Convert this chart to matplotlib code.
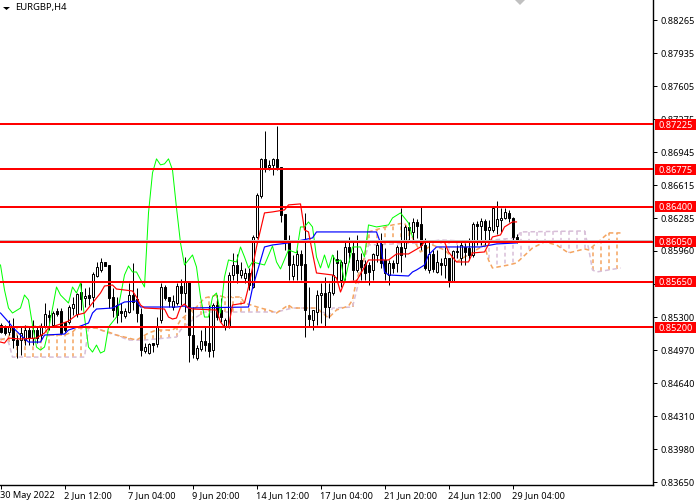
"""EURGBP H4 chart with Ichimoku lines and horizontal levels."""

import matplotlib as mpl
import matplotlib.pyplot as plt
import numpy as np
from matplotlib.patches import Polygon, Rectangle
from matplotlib.transforms import blended_transform_factory

opens = [
    0.8522, 0.8520, 0.8515, 0.8520, 0.8507, 0.8507, 0.8507, 0.8517, 0.8509, 0.8517,
    0.8512, 0.8520, 0.8532, 0.8522, 0.8536, 0.8536, 0.8525, 0.8525, 0.8539, 0.8533,
    0.8555, 0.8549, 0.8552, 0.8550, 0.8571, 0.8577, 0.8585, 0.8582, 0.8550, 0.8542,
    0.8536, 0.8531, 0.8535, 0.8552, 0.8548, 0.8533, 0.8496, 0.8494, 0.8504, 0.8503,
    0.8527, 0.8560, 0.8550, 0.8540, 0.8544, 0.8561, 0.8554, 0.8565, 0.8512, 0.8489,
    0.8498, 0.8506, 0.8504, 0.8497, 0.8542, 0.8537, 0.8520, 0.8520, 0.8572, 0.8582,
    0.8572, 0.8569, 0.8574, 0.8560, 0.8610, 0.8651, 0.8688, 0.8680, 0.8682, 0.8688,
    0.8680, 0.8633, 0.8605, 0.8571, 0.8582, 0.8593, 0.8583, 0.8532, 0.8527, 0.8535,
    0.8552, 0.8554, 0.8540, 0.8554, 0.8588, 0.8567, 0.8584, 0.8600, 0.8594, 0.8577,
    0.8587, 0.8583, 0.8582, 0.8577, 0.8592, 0.8603, 0.8587, 0.8572, 0.8584, 0.8584,
    0.8600, 0.8599, 0.8620, 0.8615, 0.8625, 0.8623, 0.8602, 0.8577, 0.8593, 0.8575,
    0.8584, 0.8582, 0.8589, 0.8566, 0.8596, 0.8589, 0.8600, 0.8599, 0.8592, 0.8623,
    0.8621, 0.8626, 0.8617, 0.8617, 0.8621, 0.8627, 0.8629, 0.8634, 0.8629, 0.8610,
]
highs = [
    0.8524, 0.8522, 0.8527, 0.8529, 0.8512, 0.8521, 0.8522, 0.8521, 0.8527, 0.8521,
    0.8524, 0.8544, 0.8537, 0.8536, 0.8539, 0.8539, 0.8525, 0.8542, 0.8550, 0.8554,
    0.8564, 0.8559, 0.8560, 0.8575, 0.8585, 0.8589, 0.8585, 0.8582, 0.8559, 0.8550,
    0.8544, 0.8539, 0.8564, 0.8584, 0.8559, 0.8539, 0.8504, 0.8504, 0.8504, 0.8530,
    0.8564, 0.8562, 0.8550, 0.8552, 0.8564, 0.8568, 0.8590, 0.8565, 0.8540, 0.8502,
    0.8517, 0.8520, 0.8542, 0.8544, 0.8552, 0.8549, 0.8529, 0.8575, 0.8594, 0.8593,
    0.8585, 0.8579, 0.8579, 0.8612, 0.8654, 0.8689, 0.8716, 0.8687, 0.8689, 0.8721,
    0.8680, 0.8633, 0.8612, 0.8592, 0.8597, 0.8597, 0.8634, 0.8560, 0.8537, 0.8557,
    0.8564, 0.8570, 0.8564, 0.8592, 0.8597, 0.8587, 0.8605, 0.8610, 0.8605, 0.8612,
    0.8594, 0.8587, 0.8585, 0.8594, 0.8605, 0.8614, 0.8599, 0.8587, 0.8587, 0.8602,
    0.8639, 0.8622, 0.8625, 0.8629, 0.8628, 0.8640, 0.8609, 0.8607, 0.8597, 0.8597,
    0.8589, 0.8600, 0.8589, 0.8597, 0.8602, 0.8607, 0.8604, 0.8609, 0.8625, 0.8626,
    0.8629, 0.8628, 0.8627, 0.8640, 0.8646, 0.8639, 0.8639, 0.8637, 0.8630, 0.8613,
]
lows = [
    0.8514, 0.8512, 0.8512, 0.8499, 0.8489, 0.8492, 0.8502, 0.8502, 0.8502, 0.8504,
    0.8507, 0.8519, 0.8517, 0.8520, 0.8531, 0.8513, 0.8515, 0.8523, 0.8532, 0.8530,
    0.8537, 0.8540, 0.8542, 0.8540, 0.8570, 0.8575, 0.8581, 0.8539, 0.8530, 0.8524,
    0.8525, 0.8529, 0.8534, 0.8537, 0.8525, 0.8491, 0.8494, 0.8493, 0.8495, 0.8500,
    0.8524, 0.8547, 0.8540, 0.8537, 0.8542, 0.8542, 0.8535, 0.8485, 0.8489, 0.8487,
    0.8496, 0.8496, 0.8490, 0.8490, 0.8527, 0.8525, 0.8517, 0.8519, 0.8567, 0.8564,
    0.8569, 0.8564, 0.8557, 0.8559, 0.8609, 0.8649, 0.8675, 0.8677, 0.8672, 0.8677,
    0.8625, 0.8597, 0.8567, 0.8567, 0.8567, 0.8567, 0.8510, 0.8520, 0.8517, 0.8522,
    0.8524, 0.8520, 0.8529, 0.8552, 0.8567, 0.8560, 0.8567, 0.8585, 0.8567, 0.8575,
    0.8567, 0.8567, 0.8562, 0.8567, 0.8585, 0.8579, 0.8567, 0.8562, 0.8574, 0.8575,
    0.8575, 0.8590, 0.8607, 0.8607, 0.8609, 0.8597, 0.8577, 0.8574, 0.8575, 0.8574,
    0.8572, 0.8569, 0.8560, 0.8565, 0.8589, 0.8582, 0.8582, 0.8587, 0.8590, 0.8602,
    0.8602, 0.8602, 0.8607, 0.8615, 0.8613, 0.8615, 0.8628, 0.8625, 0.8607, 0.8604,
]
closes = [
    0.8515, 0.8514, 0.8520, 0.8507, 0.8502, 0.8514, 0.8517, 0.8509, 0.8517, 0.8509,
    0.8520, 0.8533, 0.8530, 0.8534, 0.8533, 0.8514, 0.8517, 0.8540, 0.8543, 0.8553,
    0.8548, 0.8551, 0.8549, 0.8573, 0.8580, 0.8585, 0.8581, 0.8549, 0.8537, 0.8532,
    0.8534, 0.8536, 0.8552, 0.8545, 0.8534, 0.8497, 0.8500, 0.8503, 0.8502, 0.8520,
    0.8560, 0.8549, 0.8546, 0.8546, 0.8561, 0.8554, 0.8565, 0.8512, 0.8493, 0.8499,
    0.8506, 0.8502, 0.8496, 0.8542, 0.8530, 0.8530, 0.8527, 0.8572, 0.8582, 0.8574,
    0.8577, 0.8574, 0.8562, 0.8610, 0.8652, 0.8688, 0.8680, 0.8682, 0.8688, 0.8680,
    0.8632, 0.8605, 0.8582, 0.8583, 0.8593, 0.8582, 0.8537, 0.8528, 0.8537, 0.8552,
    0.8554, 0.8540, 0.8555, 0.8572, 0.8584, 0.8585, 0.8600, 0.8595, 0.8577, 0.8587,
    0.8580, 0.8574, 0.8575, 0.8593, 0.8602, 0.8584, 0.8574, 0.8584, 0.8579, 0.8600,
    0.8592, 0.8620, 0.8617, 0.8625, 0.8621, 0.8602, 0.8579, 0.8593, 0.8578, 0.8585,
    0.8582, 0.8589, 0.8566, 0.8596, 0.8595, 0.8602, 0.8595, 0.8592, 0.8623, 0.8621,
    0.8626, 0.8617, 0.8620, 0.8639, 0.8628, 0.8629, 0.8635, 0.8629, 0.8610, 0.8606,
]

tenkan_bars = [
    0, 1, 2, 5, 9, 11, 12, 15, 17, 19, 21, 22, 24, 25, 26, 28, 29, 33, 34, 35, 36, 41,
    42, 43, 44, 45, 46, 47, 48, 54, 55, 56, 57, 58, 61, 62, 63, 64, 66, 68, 71, 72, 75,
    76, 77, 78, 79, 83, 84, 85, 86, 89, 91, 92, 97, 99, 102, 105, 106, 110, 111, 112,
    114, 117, 118, 121, 123, 125, 126, 128, 129,
]
tenkan = [
    0.8505, 0.8504, 0.8509, 0.8508, 0.8509, 0.8514, 0.8519, 0.8523, 0.8526, 0.8532,
    0.8534, 0.8539, 0.8549, 0.8554, 0.8561, 0.8562, 0.8558, 0.8556, 0.8550, 0.8542,
    0.8539, 0.8538, 0.8530, 0.8528, 0.8529, 0.8540, 0.8543, 0.8539, 0.8538, 0.8537,
    0.8525, 0.8520, 0.8520, 0.8542, 0.8544, 0.8560, 0.8579, 0.8600, 0.8634, 0.8635,
    0.8637, 0.8642, 0.8643, 0.8617, 0.8615, 0.8594, 0.8574, 0.8572, 0.8569, 0.8555,
    0.8565, 0.8566, 0.8580, 0.8587, 0.8587, 0.8593, 0.8593, 0.8600, 0.8605, 0.8606,
    0.8605, 0.8595, 0.8585, 0.8585, 0.8594, 0.8595, 0.8610, 0.8612, 0.8620, 0.8625,
    0.8625,
]

kijun_bars = [
    0, 2, 3, 5, 7, 10, 11, 16, 17, 20, 22, 23, 24, 28, 31, 34, 35, 44, 46, 47, 62, 63,
    66, 68, 72, 78, 79, 94, 95, 96, 97, 102, 103, 104, 106, 107, 109, 120, 124, 129,
]
kijun = [
    0.8534, 0.8525, 0.8520, 0.8512, 0.8505, 0.8505, 0.8512, 0.8513, 0.8517, 0.8521,
    0.8524, 0.8534, 0.8538, 0.8539, 0.8545, 0.8546, 0.8540, 0.8540, 0.8541, 0.8539,
    0.8540, 0.8559, 0.8600, 0.8602, 0.8604, 0.8609, 0.8615, 0.8615, 0.8604, 0.8575,
    0.8572, 0.8571, 0.8575, 0.8577, 0.8582, 0.8592, 0.8600, 0.8600, 0.8603, 0.8604,
]

chikou_bars = [
    0, 1, 2, 3, 5, 6, 7, 8, 9, 10, 11, 12, 14, 15, 17, 18, 19, 20, 21, 22, 23, 24, 25,
    26, 27, 29, 31, 32, 33, 34, 36, 37, 38, 39, 40, 41, 42, 43, 44, 45, 46, 48, 49, 50,
    51, 52, 53, 54, 55, 56, 57, 59, 60, 61, 62, 63, 66, 68, 69, 70, 72, 74, 75, 76, 77,
    78, 79, 80, 81, 82, 83, 84, 85, 86, 88, 90, 91, 92, 94, 97, 98, 100, 102, 103,
]
chikou = [
    0.8582, 0.8557, 0.8539, 0.8534, 0.8539, 0.8552, 0.8547, 0.8522, 0.8500, 0.8497,
    0.8500, 0.8517, 0.8560, 0.8552, 0.8544, 0.8560, 0.8554, 0.8564, 0.8530, 0.8500,
    0.8495, 0.8502, 0.8494, 0.8496, 0.8520, 0.8530, 0.8572, 0.8581, 0.8575, 0.8575,
    0.8560, 0.8634, 0.8674, 0.8688, 0.8682, 0.8683, 0.8688, 0.8677, 0.8639, 0.8604,
    0.8582, 0.8592, 0.8580, 0.8550, 0.8530, 0.8530, 0.8550, 0.8554, 0.8534, 0.8570,
    0.8587, 0.8585, 0.8600, 0.8590, 0.8579, 0.8585, 0.8582, 0.8601, 0.8585, 0.8578,
    0.8597, 0.8594, 0.8620, 0.8620, 0.8625, 0.8620, 0.8590, 0.8579, 0.8592, 0.8579,
    0.8592, 0.8585, 0.8587, 0.8565, 0.8600, 0.8600, 0.8590, 0.8622, 0.8620, 0.8622,
    0.8629, 0.8634, 0.8624, 0.8610,
]

span_a_bars = [
    0, 2, 3, 10, 11, 12, 16, 18, 19, 24, 25, 27, 29, 32, 34, 37, 39, 43, 44, 45, 47, 49,
    51, 54, 56, 60, 61, 65, 67, 69, 72, 73, 79, 82, 84, 87, 88, 89, 91, 92, 98, 101,
    103, 105, 108, 111, 114, 121, 122, 123, 127, 129, 133, 136, 139, 142, 146, 147,
    150, 152, 155,
]
span_a = [
    0.8507, 0.8510, 0.8520, 0.8521, 0.8519, 0.8512, 0.8512, 0.8515, 0.8519, 0.8519,
    0.8517, 0.8515, 0.8512, 0.8509, 0.8507, 0.8514, 0.8517, 0.8517, 0.8520, 0.8527,
    0.8534, 0.8540, 0.8549, 0.8552, 0.8550, 0.8550, 0.8544, 0.8539, 0.8537, 0.8534,
    0.8542, 0.8539, 0.8539, 0.8529, 0.8537, 0.8541, 0.8547, 0.8567, 0.8590, 0.8615,
    0.8622, 0.8624, 0.8609, 0.8595, 0.8602, 0.8597, 0.8585, 0.8602, 0.8587, 0.8579,
    0.8582, 0.8584, 0.8599, 0.8605, 0.8602, 0.8594, 0.8598, 0.8597, 0.8607, 0.8614,
    0.8614,
]

span_b_bars = [
    0, 2, 3, 21, 22, 24, 27, 29, 32, 36, 44, 45, 47, 49, 51, 69, 71, 73, 79, 81, 82, 83,
    88, 90, 92, 105, 110, 120, 123, 129, 130, 146, 147, 148, 149, 155,
]
span_b = [
    0.8509, 0.8505, 0.8490, 0.8490, 0.8519, 0.8519, 0.8514, 0.8512, 0.8507, 0.8507,
    0.8510, 0.8517, 0.8524, 0.8530, 0.8535, 0.8535, 0.8537, 0.8539, 0.8539, 0.8534,
    0.8530, 0.8539, 0.8540, 0.8572, 0.8602, 0.8604, 0.8607, 0.8605, 0.8607, 0.8609,
    0.8615, 0.8616, 0.8599, 0.8577, 0.8575, 0.8579,
]

levels = [0.87225, 0.86775, 0.86400, 0.86050, 0.85650, 0.85200]
level_labels = ["0.87225", "0.86775", "0.86400", "0.86050", "0.85650", "0.85200"]
bid_price = 0.8607

price_ticks = [
    0.88265, 0.87935, 0.87605, 0.87275, 0.86945, 0.86615, 0.86285, 0.85960,
    0.85630, 0.85300, 0.84970, 0.84640, 0.84310, 0.83980, 0.83650,
]
price_tick_labels = [
    "0.88265", "0.87935", "0.87605", "0.87275", "0.86945", "0.86615", "0.86285",
    "0.85960", "0.85630", "0.85300", "0.84970", "0.84640", "0.84310", "0.83980",
    "0.83650",
]
time_ticks = [0, 16, 32, 48, 64, 80, 96, 112, 128]
time_tick_labels = [
    "30 May 2022", "2 Jun 12:00", "7 Jun 04:00", "9 Jun 20:00", "14 Jun 12:00",
    "17 Jun 04:00", "21 Jun 20:00", "24 Jun 12:00", "29 Jun 04:00",
]

PX = 0.72  # one pixel in points at dpi 100
ORANGE = "#F4A460"
THISTLE = "#D8BFD8"
LEVEL_RED = "#FF0000"
LIME = "#00FF00"

mpl.rcParams.update({"font.family": ["Noto Sans", "DejaVu Sans"], "font.size": 6.6})


def draw_cloud(ax):
    # hatch every second bar, in the colour of whichever span is on top
    hatch_bars = np.arange(0, span_a_bars[-1] + 1, 2)
    a = np.interp(hatch_bars, span_a_bars, span_a)
    b = np.interp(hatch_bars, span_b_bars, span_b)
    for bar, top, bottom in zip(hatch_bars, a, b):
        color = ORANGE if top >= bottom else THISTLE
        ax.plot(
            [bar, bar], [bottom, top], color=color, lw=1.1, ls=(0, (2.5, 2)),
            dash_capstyle="butt", snap=True, zorder=1,
        )
    ax.plot(span_b_bars, span_b, color=THISTLE, lw=1.1, ls=(0, (3, 2)), zorder=1.1)
    ax.plot(span_a_bars, span_a, color=ORANGE, lw=1.1, ls=(0, (3, 2)), zorder=1.2)


def draw_candles(ax):
    o = np.array(opens)
    c = np.array(closes)
    bars = np.arange(len(o))
    ax.vlines(bars, lows, highs, color="black", lw=PX, zorder=2)
    ax.bar(
        bars,
        np.abs(c - o),
        bottom=np.minimum(o, c),
        width=0.5,
        color=np.where(c >= o, "white", "black"),
        edgecolor="black",
        linewidth=PX,
        zorder=2.1,
    )


def draw():
    fig = plt.figure(figsize=(7, 5), dpi=100)
    ax = fig.add_axes([0, 15 / 500, 653 / 700, 485 / 500])
    ax.set_xlim(-0.125, 163.125)
    ax.set_ylim(0.83622, 0.88467)

    draw_cloud(ax)
    draw_candles(ax)
    ax.plot(chikou_bars, chikou, color=LIME, lw=PX, zorder=3)
    ax.plot(kijun_bars, kijun, color="#0000FF", lw=0.85, zorder=3.1)
    ax.plot(tenkan_bars, tenkan, color=LEVEL_RED, lw=0.85, zorder=3.2)

    ax.axhline(bid_price, color="#C0C0C0", lw=PX, zorder=3.5)
    for level in levels:
        ax.axhline(level, color=LEVEL_RED, lw=1.44, zorder=4)

    ax.spines["left"].set_visible(False)
    ax.spines["top"].set_visible(False)
    ax.spines["right"].set_linewidth(PX * 1.4)
    ax.spines["bottom"].set_linewidth(PX * 1.4)
    ax.yaxis.tick_right()
    ax.set_yticks(price_ticks, price_tick_labels)
    ax.set_xticks(time_ticks, time_tick_labels)
    ax.tick_params(axis="y", length=3, width=PX, pad=2.5, labelsize=6.6)
    ax.tick_params(axis="x", length=3, width=PX, pad=1.5, labelsize=6.6)
    for label in ax.get_xticklabels():
        label.set_ha("left")

    # red price tags sit over the tick labels, as on the terminal
    tag_trans = blended_transform_factory(fig.transFigure, ax.transData)
    for level, text in zip(levels, level_labels):
        ax.add_patch(
            Rectangle(
                (655 / 700, level - 0.00055), 41 / 700, 0.0011, transform=tag_trans,
                facecolor=LEVEL_RED, edgecolor="none", clip_on=False, zorder=6,
            )
        )
        ax.text(
            675.5 / 700, level, text, transform=tag_trans, color="white", ha="center",
            va="center_baseline", fontsize=6.6, clip_on=False, zorder=7,
        )

    fig.add_artist(
        Polygon(
            [(3 / 700, 493 / 500), (10 / 700, 493 / 500), (6.5 / 700, 490 / 500)],
            transform=fig.transFigure, facecolor="black", edgecolor="none",
        )
    )
    fig.add_artist(
        Polygon(
            [(515 / 700, 1.0), (525 / 700, 1.0), (520 / 700, 495 / 500)],
            transform=fig.transFigure, facecolor="#C0C0C0", edgecolor="none",
        )
    )
    fig.text(15 / 700, 492.5 / 500, "EURGBP,H4", fontsize=6.8, color="black", ha="left", va="center")

    fig.savefig("out.png", dpi=100)
    plt.close(fig)


if __name__ == "__main__":
    draw()
